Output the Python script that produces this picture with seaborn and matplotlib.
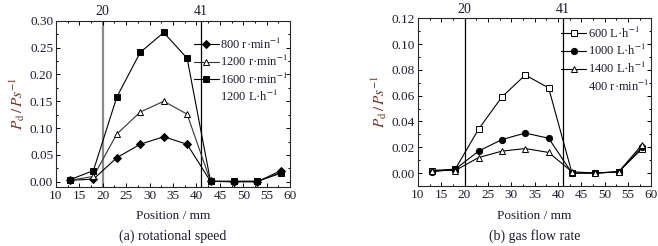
import numpy as np
import pandas as pd
import seaborn as sns
import matplotlib.pyplot as plt
from matplotlib.lines import Line2D
from matplotlib.ticker import MultipleLocator
import matplotlib.transforms as mtransforms

# --- data ---
position = [13, 18, 23, 28, 33, 38, 43, 48, 53, 58]

# (a) rotational speed, gas flow 1200 L/h
speed_800 = [0.003, 0.005, 0.045, 0.070, 0.084, 0.070, 0.001, 0.000, 0.000, 0.021]
speed_1200 = [0.003, 0.010, 0.089, 0.130, 0.150, 0.126, 0.001, 0.001, 0.001, 0.018]
speed_1600 = [0.004, 0.021, 0.158, 0.241, 0.278, 0.230, 0.001, 0.001, 0.001, 0.016]

# (b) gas flow rate, 400 r/min
flow_600 = [0.002, 0.003, 0.034, 0.059, 0.076, 0.066, 0.000, 0.000, 0.001, 0.019]
flow_1000 = [0.001, 0.003, 0.017, 0.026, 0.031, 0.027, 0.000, 0.000, 0.001, 0.020]
flow_1400 = [0.002, 0.002, 0.012, 0.017, 0.019, 0.016, 0.001, 0.000, 0.001, 0.022]

speed_labels = ['800 r·min$^{-1}$', '1200 r·min$^{-1}$', '1600 r·min$^{-1}$']
flow_labels = ['600 L·h$^{-1}$', '1000 L·h$^{-1}$', '1400 L·h$^{-1}$']

sns.set_style('ticks')
plt.rcParams['font.family'] = ['Liberation Serif', 'DejaVu Serif']
plt.rcParams['mathtext.fontset'] = 'stix'
plt.rcParams['font.size'] = 9

TXT = '#1c1c30'
YLAB = '#6b3020'

fig = plt.figure(figsize=(6.58, 2.46), dpi=100)
ax1 = fig.add_axes([0.085, 0.240, 0.356, 0.676])
ax2 = fig.add_axes([0.635, 0.245, 0.355, 0.681])


def draw_panel(ax, series, labels, styles, ylim, major, note, vlines, leg_y):
    for vals, lab, st in zip(series, labels, styles):
        sns.lineplot(x=position, y=vals, ax=ax, color=st['line'], lw=0.8,
                     marker=st['marker'], markersize=st['ms'],
                     markerfacecolor=st['face'], markeredgecolor='black',
                     markeredgewidth=0.7, label=lab, legend=False)
    trans = mtransforms.blended_transform_factory(ax.transData, ax.transAxes)
    for xv, c, w in vlines:
        ax.axvline(xv, color=c, lw=w, zorder=0)
        ax.text(xv, 1.015, str(xv), transform=trans, ha='center', va='bottom',
                fontsize=10, color=TXT)
    ax.set_xlim(10, 60)
    ax.set_ylim(*ylim)
    ax.xaxis.set_major_locator(MultipleLocator(5))
    ax.xaxis.set_minor_locator(MultipleLocator(2.5))
    ax.yaxis.set_major_locator(MultipleLocator(major))
    ax.yaxis.set_minor_locator(MultipleLocator(major / 2))
    ax.set_yticks(np.arange(0, ylim[1] + 1e-9, major))
    ax.yaxis.set_major_formatter(plt.FormatStrFormatter('%.2f'))
    ax.tick_params(which='both', direction='in', top=True, right=True,
                   labelsize=9.5, colors='black', labelcolor=TXT, width=0.7,
                   pad=2)
    ax.tick_params(which='major', length=3)
    ax.tick_params(which='minor', length=1.5)
    for s in ax.spines.values():
        s.set_linewidth(0.8)
    ax.set_xlabel('')
    ax.set_ylabel(r'$P_{\mathrm{d}}\,/\,Ps^{-1}$', color=YLAB, fontsize=11,
                  labelpad=2)

    handles = [Line2D([], [], color=st['line'], lw=0.8, marker=st['marker'],
                      markersize=st['ms'], markerfacecolor=st['face'],
                      markeredgecolor='black', markeredgewidth=0.7)
               for st in styles]
    handles.append(Line2D([], [], color='none'))
    ax.legend(handles, labels + [note], loc='upper right', frameon=False,
              fontsize=9, handlelength=2.0, handletextpad=0.1,
              labelspacing=0.2, borderaxespad=0.0, borderpad=0.0,
              labelcolor=TXT, bbox_to_anchor=(0.99, leg_y))


speed_styles = [
    {'marker': 'D', 'ms': 4.5, 'face': 'black', 'line': 'black'},
    {'marker': '^', 'ms': 5, 'face': 'white', 'line': '#333333'},
    {'marker': 's', 'ms': 4.5, 'face': 'black', 'line': 'black'},
]
flow_styles = [
    {'marker': 's', 'ms': 4.5, 'face': 'white', 'line': 'black'},
    {'marker': 'o', 'ms': 4.5, 'face': 'black', 'line': 'black'},
    {'marker': '^', 'ms': 5, 'face': 'white', 'line': 'black'},
]

draw_panel(ax1, [speed_800, speed_1200, speed_1600], speed_labels, speed_styles,
           (-0.0095, 0.30), 0.05, '1200 L·h$^{-1}$',
           [(20, '#8a8a8a', 1.6), (41, 'black', 0.9)], 0.905)
draw_panel(ax2, [flow_600, flow_1000, flow_1400], flow_labels, flow_styles,
           (-0.0098, 0.12), 0.02, '400 r·min$^{-1}$',
           [(20, 'black', 0.9), (41, 'black', 0.9)], 0.955)

# axis titles and captions
for ax, cap in [(ax1, '(a) rotational speed'), (ax2, '(b) gas flow rate')]:
    pos = ax.get_position()
    xc = (pos.x0 + pos.x1) / 2
    fig.text(xc, 1 - 216 / 246, 'Position / mm', ha='center', va='center',
             fontsize=9.5, color=TXT)
    fig.text(xc, 1 - 236 / 246, cap, ha='center', va='center',
             fontsize=10, color=TXT)

fig.savefig('out.png', dpi=100)
